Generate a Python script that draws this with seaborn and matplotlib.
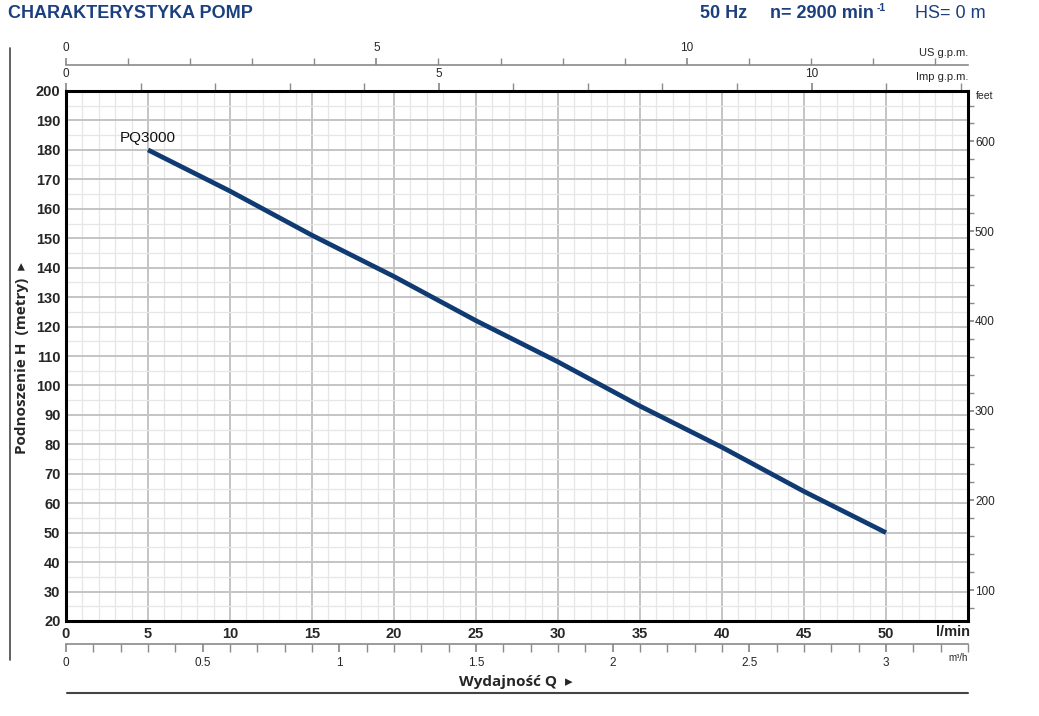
import pandas as pd
import seaborn as sns
import matplotlib.pyplot as plt
from matplotlib.ticker import MultipleLocator, FuncFormatter
from matplotlib.lines import Line2D

# ---- data ----
flow_lpm = [5, 10, 15, 20, 25, 30, 35, 40, 45, 50]
head_m = [180, 166, 151, 137, 122, 108, 93, 79, 64, 50]
pump_name = "PQ3000"

x_ticks = list(range(0, 51, 5))
y_ticks = list(range(20, 201, 10))
us_ticks = [0, 5, 10]
imp_ticks = [0, 5, 10]
m3h_ticks = [0, 0.5, 1, 1.5, 2, 2.5, 3]
feet_ticks = [100, 200, 300, 400, 500, 600]

W, H = 1039, 716
BLUE = "#1b3f7f"
NAVY = "#0f3a72"
GREY = "#8a8a8a"


def fx(px):
    return px / W


def fy(py):
    return 1 - py / H


sns.set_theme(style="white")
plt.rcParams["font.family"] = ["Liberation Sans", "DejaVu Sans"]

fig = plt.figure(figsize=(W / 100, H / 100), dpi=100)
ax = fig.add_axes([fx(66), fy(621), (968 - 66) / W, (621 - 91) / H])

df = pd.DataFrame({"Q": flow_lpm, "H": head_m})
sns.lineplot(data=df, x="Q", y="H", ax=ax, color=NAVY, lw=3.4,
             solid_capstyle="butt", zorder=5)
ax.text(5, 184, pump_name, ha="center", va="center", fontsize=11,
        color="#111111", zorder=6)

ax.set_xlim(0, 55)
ax.set_ylim(20, 200)
ax.set_xticks(x_ticks, labels=[str(v) for v in x_ticks],
              fontweight="bold", fontsize=10.5)
ax.set_yticks(y_ticks, labels=[str(v) for v in y_ticks],
              fontweight="bold", fontsize=10.5)
ax.xaxis.set_minor_locator(MultipleLocator(1))
ax.yaxis.set_minor_locator(MultipleLocator(5))
ax.tick_params(which="both", length=0)
ax.tick_params(axis="x", pad=4)
ax.tick_params(axis="y", pad=4)
ax.set_axisbelow(True)
ax.grid(which="major", color="#c4c4c4", lw=1.4)
ax.grid(which="minor", color="#e6e6e6", lw=0.9)
ax.set_xlabel("")
ax.set_ylabel("")
for sp in ax.spines.values():
    sp.set_visible(True)
    sp.set_color("black")
    sp.set_linewidth(2.2)

# ---- secondary scales ----
us = ax.secondary_xaxis(1.049, functions=(lambda q: q / 3.785, lambda g: g * 3.785))
us.set_xticks(us_ticks)
us.xaxis.set_minor_locator(MultipleLocator(1))
us.spines["top"].set_color(GREY)
us.spines["top"].set_linewidth(1.2)
us.tick_params(which="both", direction="out", length=5, color=GREY,
               labelsize=8.5, pad=3)

imp = ax.secondary_xaxis("top", functions=(lambda q: q / 4.546, lambda g: g * 4.546))
imp.set_xticks(imp_ticks)
imp.xaxis.set_minor_locator(MultipleLocator(1))
imp.spines["top"].set_visible(False)
imp.tick_params(which="both", direction="out", length=6, color=GREY,
                labelsize=8.5, pad=2)

m3h = ax.secondary_xaxis(-0.0434, functions=(lambda q: q * 0.06, lambda v: v / 0.06))
m3h.set_xticks(m3h_ticks)
m3h.xaxis.set_major_formatter(FuncFormatter(lambda v, p: f"{v:g}"))
m3h.xaxis.set_minor_locator(MultipleLocator(0.1))
m3h.spines["bottom"].set_color(GREY)
m3h.spines["bottom"].set_linewidth(1.2)
m3h.tick_params(which="both", direction="out", length=6, color=GREY,
                labelsize=8.5, pad=3)

ft = ax.secondary_yaxis("right", functions=(lambda m: m * 3.2808, lambda f: f / 3.2808))
ft.set_yticks(feet_ticks)
ft.yaxis.set_minor_locator(MultipleLocator(20))
ft.spines["right"].set_visible(False)
ft.tick_params(which="both", direction="out", length=4, color=GREY,
               labelsize=8.5, pad=1)

# ---- unit labels ----
fig.text(fx(968), fy(53), "US g.p.m.", ha="right", va="center", fontsize=8)
fig.text(fx(968), fy(77), "Imp g.p.m.", ha="right", va="center", fontsize=8)
fig.text(fx(976), fy(96), "feet", ha="left", va="center", fontsize=7.5)
fig.text(fx(970), fy(632), "l/min", ha="right", va="center",
         fontsize=10.5, fontweight="bold")
fig.text(fx(968), fy(658), "m³/h", ha="right", va="center", fontsize=7)

# ---- axis titles ----
fig.text(fx(516), fy(682), "Wydajność Q  ▸", ha="center", va="center",
         fontsize=11, fontweight="bold", family=["Open Sans", "DejaVu Sans"])
fig.text(fx(22), fy(358), "Podnoszenie H  (metry)  ▸", ha="center", va="center",
         rotation=90, fontsize=11, fontweight="bold",
         family=["Open Sans", "DejaVu Sans"])

# ---- header ----
fig.text(fx(8), fy(13), "CHARAKTERYSTYKA POMP", ha="left", va="center",
         fontsize=13, fontweight="bold", color=BLUE)
fig.text(fx(700), fy(13), "50 Hz", ha="left", va="center",
         fontsize=13, fontweight="bold", color=BLUE)
fig.text(fx(770), fy(13), "n= 2900 min", ha="left", va="center",
         fontsize=13, fontweight="bold", color=BLUE)
fig.text(fx(877), fy(8), "-1", ha="left", va="center",
         fontsize=7.5, fontweight="bold", color=BLUE)
fig.text(fx(915), fy(13), "HS= 0 m", ha="left", va="center",
         fontsize=13, color=BLUE)

# ---- frame lines ----
fig.add_artist(Line2D([fx(10), fx(10)], [fy(48), fy(660)], color="#555555", lw=1.3))
fig.add_artist(Line2D([fx(67), fx(968)], [fy(693), fy(693)], color="#444444", lw=1.5))

fig.savefig("out.png", dpi=100)
